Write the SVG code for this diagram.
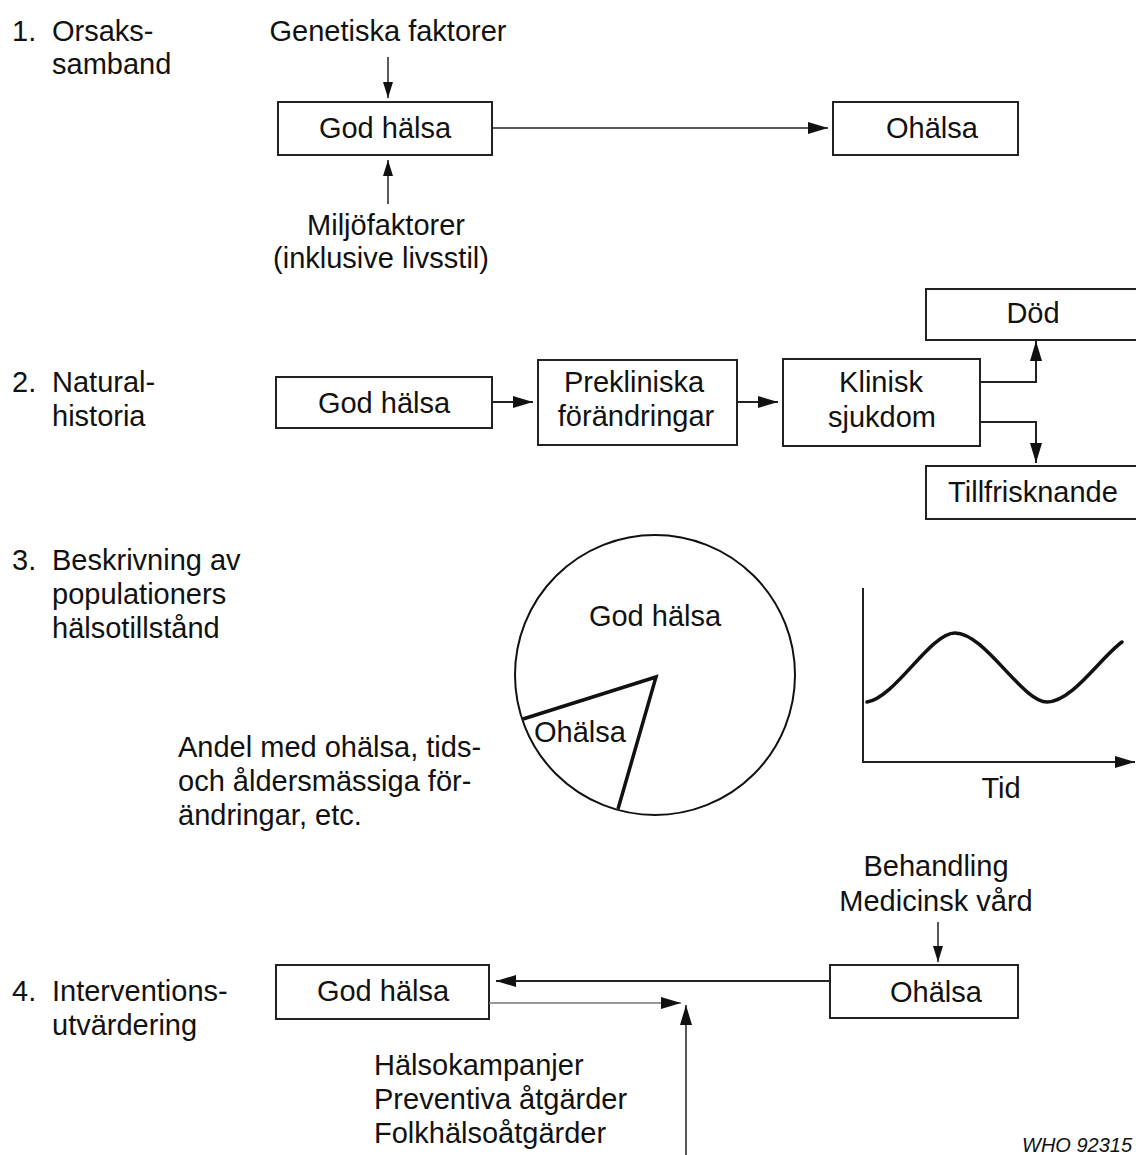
<svg xmlns="http://www.w3.org/2000/svg" width="1136" height="1155" viewBox="0 0 1136 1155">
<defs>
<style>
text{font-family:"Liberation Sans",Arial,Helvetica,sans-serif;font-size:29px;fill:#111}
.c{text-anchor:middle}
.box{fill:#fff;stroke:#222;stroke-width:2}
.ln{fill:none;stroke:#222;stroke-width:2}
.thin{fill:none;stroke:#222;stroke-width:1.5}
.grey{fill:none;stroke:#777;stroke-width:1.5}
.wedge{fill:none;stroke:#111;stroke-width:3.5;stroke-linejoin:miter}
.curve{fill:none;stroke:#111;stroke-width:3.5;stroke-linecap:round}
.who{font-size:20px;font-style:italic}
</style>
<marker id="ah" markerWidth="20" markerHeight="12" refX="20" refY="6" orient="auto" markerUnits="userSpaceOnUse"><path d="M0,0 L20,6 L0,12 Z" fill="#111"/></marker>
<marker id="ahs" markerWidth="16" markerHeight="10" refX="16" refY="5" orient="auto" markerUnits="userSpaceOnUse"><path d="M0,0 L16,5 L0,10 Z" fill="#111"/></marker>
</defs>

<!-- Section labels -->
<g id="labels">
<text><tspan x="12" y="41">1.</tspan><tspan x="52" y="41">Orsaks-</tspan><tspan x="52" y="74">samband</tspan></text>
<text><tspan x="12" y="392">2.</tspan><tspan x="52" y="392">Natural-</tspan><tspan x="52" y="426">historia</tspan></text>
<text><tspan x="12" y="570">3.</tspan><tspan x="52" y="570">Beskrivning av</tspan><tspan x="52" y="604">populationers</tspan><tspan x="52" y="638">hälsotillstånd</tspan></text>
<text><tspan x="12" y="1001">4.</tspan><tspan x="52" y="1001">Interventions-</tspan><tspan x="52" y="1035">utvärdering</tspan></text>
</g>

<!-- Section 1 -->
<g id="s1-genetiska"><text class="c" x="388" y="41">Genetiska faktorer</text></g>
<g id="s1-godhalsa"><rect class="box" x="278" y="102" width="214" height="53"/><text class="c" x="385" y="138">God hälsa</text></g>
<g id="s1-ohalsa"><rect class="box" x="833" y="102" width="185" height="53"/><text class="c" x="932" y="138">Ohälsa</text></g>
<g id="s1-miljo"><text class="c" x="386" y="235">Miljöfaktorer</text><text class="c" x="381" y="268">(inklusive livsstil)</text></g>

<!-- Section 2 -->
<g id="s2-godhalsa"><rect class="box" x="276" y="377" width="216" height="51"/><text class="c" x="384" y="413">God hälsa</text></g>
<g id="s2-preklin"><rect class="box" x="538" y="360" width="199" height="85"/><text class="c" x="634" y="392">Prekliniska</text><text class="c" x="636" y="426">förändringar</text></g>
<g id="s2-klinisk"><rect class="box" x="783" y="359" width="197" height="87"/><text class="c" x="881" y="392">Klinisk</text><text class="c" x="882" y="427">sjukdom</text></g>
<g id="s2-dod"><rect class="box" x="926" y="289" width="220" height="51"/><text class="c" x="1033" y="323">Död</text></g>
<g id="s2-tillfrisk"><rect class="box" x="926" y="466" width="220" height="53"/><text class="c" x="1033" y="502">Tillfrisknande</text></g>

<!-- Section 3 -->
<g id="s3-pie">
<circle cx="655" cy="675" r="140" fill="none" stroke="#111" stroke-width="2"/>
<polyline class="wedge" points="523,719 656,677 618,809"/>
<text class="c" x="655" y="626">God hälsa</text>
<text x="534" y="742">Ohälsa</text>
</g>
<g id="s3-text"><text><tspan x="178" y="757">Andel med ohälsa, tids-</tspan><tspan x="178" y="791">och åldersmässiga för-</tspan><tspan x="178" y="825">ändringar, etc.</tspan></text></g>
<g id="s3-graph">
<line class="ln" x1="863" y1="588" x2="863" y2="762"/>
<line class="ln" x1="862" y1="762" x2="1135" y2="762" marker-end="url(#ah)"/>
<path class="curve" d="M867,702 C895,698 930,633 955,633 C985,633 1022,702 1047,702 C1072,702 1100,658 1122,642"/>
<text class="c" x="1001" y="798">Tid</text>
</g>

<!-- Section 4 -->
<g id="s4-behandling"><text class="c" x="936" y="876">Behandling</text><text class="c" x="936" y="911">Medicinsk vård</text></g>
<g id="s4-godhalsa"><rect class="box" x="276" y="965" width="213" height="54"/><text class="c" x="383" y="1001">God hälsa</text></g>
<g id="s4-ohalsa"><rect class="box" x="830" y="965" width="188" height="53"/><text class="c" x="936" y="1002">Ohälsa</text></g>
<g id="s4-atgarder"><text><tspan x="374" y="1075">Hälsokampanjer</tspan><tspan x="374" y="1109">Preventiva åtgärder</tspan><tspan x="374" y="1143">Folkhälsoåtgärder</tspan></text></g>
<g id="who"><text class="who" x="1022" y="1152">WHO 92315</text></g>

<!-- Connectors -->
<g id="connectors">
<line class="thin" x1="388" y1="57" x2="388" y2="98" marker-end="url(#ahs)"/>
<line class="thin" x1="388" y1="204" x2="388" y2="160" marker-end="url(#ahs)"/>
<line class="thin" x1="492" y1="128" x2="828" y2="128" marker-end="url(#ah)"/>
<line class="ln" x1="492" y1="402" x2="533" y2="402" marker-end="url(#ah)"/>
<line class="ln" x1="737" y1="402" x2="778" y2="402" marker-end="url(#ah)"/>
<polyline class="ln" points="980,382 1036,382 1036,341" marker-end="url(#ah)"/>
<polyline class="ln" points="980,422 1036,422 1036,463" marker-end="url(#ah)"/>
<line class="thin" x1="938" y1="922" x2="938" y2="962" marker-end="url(#ahs)"/>
<line class="ln" x1="830" y1="981" x2="496" y2="981" marker-end="url(#ah)"/>
<line class="grey" x1="489" y1="1003" x2="681" y2="1003" marker-end="url(#ah)"/>
<line class="thin" x1="686" y1="1155" x2="686" y2="1005" marker-end="url(#ah)"/>
</g>
</svg>
